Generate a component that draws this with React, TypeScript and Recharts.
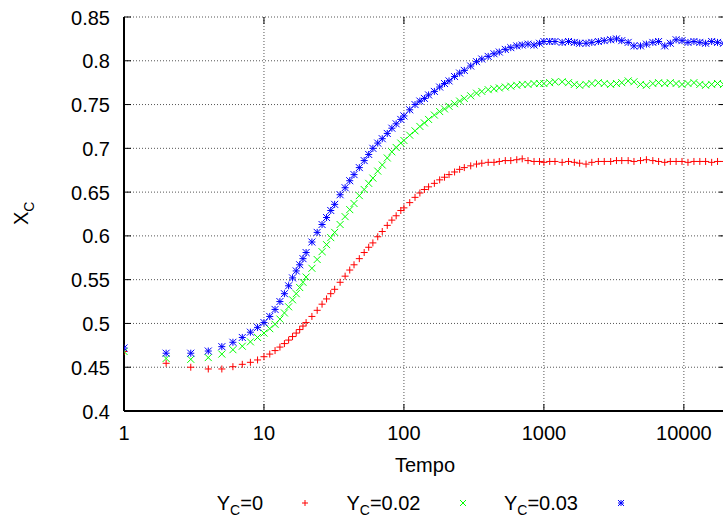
import React from 'react';
import { ScatterChart, Scatter, XAxis, YAxis, CartesianGrid, Legend } from 'recharts';

// time steps (log x axis)
const times = [
  1, 2, 3, 4, 5, 6, 7, 8, 9, 10,
  11, 12, 13, 14, 15, 16, 17, 18, 19, 20,
  22, 24, 26, 28, 30, 32,
  35, 38, 41, 44, 48, 52, 56, 60,
  65, 70, 76, 82, 88, 95,
  100, 110, 120, 130, 140, 150,
  165, 180, 195, 210, 230, 250, 270,
  300, 330, 360, 400, 440, 480,
  530, 580, 640, 700, 770, 850, 930,
  1000, 1100, 1200, 1350, 1500, 1650, 1800,
  2000, 2200, 2450, 2700, 3000, 3300, 3600,
  4000, 4400, 4900, 5400, 6000, 6600, 7300,
  8000, 8800, 9700, 10700, 11800, 13000, 14300,
  15800, 17400, 19200,
];

// Y_C=0
const redY = [
  0.468, 0.4545, 0.45, 0.448, 0.448, 0.4506, 0.4533, 0.4556, 0.4583, 0.462,
  0.465, 0.469, 0.473, 0.477, 0.481, 0.485, 0.489, 0.493, 0.497, 0.501,
  0.508, 0.515, 0.522, 0.528, 0.534, 0.539,
  0.547, 0.554, 0.561, 0.567, 0.574, 0.581, 0.587, 0.592,
  0.599, 0.605, 0.612, 0.618, 0.623, 0.629,
  0.632, 0.638, 0.644, 0.649, 0.653, 0.656,
  0.66, 0.664, 0.667, 0.67, 0.673, 0.676, 0.678,
  0.68, 0.682, 0.683, 0.684, 0.684, 0.685,
  0.686, 0.686, 0.687, 0.688, 0.686, 0.685, 0.685,
  0.684, 0.685, 0.685, 0.684, 0.685, 0.684, 0.683,
  0.682, 0.684, 0.685, 0.685, 0.685, 0.686, 0.686,
  0.686, 0.685, 0.686, 0.687, 0.686, 0.685, 0.684,
  0.685, 0.685, 0.685, 0.684, 0.685, 0.685, 0.685,
  0.684, 0.685, 0.685,
];

// Y_C=0.02
const greenY = [
  0.468, 0.46, 0.459, 0.461, 0.465, 0.47, 0.474, 0.479, 0.484, 0.489,
  0.494, 0.499, 0.505, 0.512, 0.519, 0.527, 0.534, 0.541, 0.547, 0.553,
  0.563, 0.573, 0.582, 0.59, 0.598, 0.604,
  0.613, 0.622, 0.63, 0.637, 0.646, 0.653, 0.66, 0.666,
  0.674, 0.681, 0.689, 0.696, 0.701, 0.706,
  0.709, 0.715, 0.72, 0.725, 0.729, 0.733,
  0.738, 0.742, 0.745, 0.748, 0.751, 0.754, 0.757,
  0.76, 0.763, 0.765, 0.767, 0.768, 0.769,
  0.77, 0.771, 0.772, 0.773, 0.773, 0.774, 0.774,
  0.774, 0.775, 0.776, 0.776, 0.775, 0.773, 0.772,
  0.773, 0.774, 0.775, 0.774, 0.773, 0.774, 0.775,
  0.777, 0.776, 0.773, 0.772, 0.774, 0.775, 0.774,
  0.775, 0.774, 0.773, 0.774, 0.775, 0.773, 0.772,
  0.773, 0.774, 0.773,
];

// Y_C=0.03
const blueY = [
  0.472, 0.466, 0.466, 0.4685, 0.4735, 0.4785, 0.484, 0.49, 0.4955, 0.501,
  0.508, 0.516, 0.525, 0.534, 0.543, 0.552, 0.56, 0.567, 0.574, 0.581,
  0.593, 0.604, 0.613, 0.621, 0.629, 0.636,
  0.647, 0.655, 0.663, 0.67, 0.678, 0.686, 0.693, 0.7,
  0.706, 0.711, 0.717, 0.723, 0.728, 0.733,
  0.737, 0.744, 0.75, 0.754, 0.757, 0.761,
  0.765, 0.77, 0.774, 0.777, 0.782, 0.786, 0.789,
  0.794, 0.799, 0.802, 0.805, 0.808, 0.81,
  0.813, 0.815, 0.817, 0.818, 0.819, 0.818, 0.82,
  0.822, 0.822, 0.822, 0.821, 0.822, 0.821, 0.82,
  0.82, 0.821, 0.822, 0.823, 0.824, 0.825, 0.823,
  0.821, 0.817, 0.817, 0.819, 0.821, 0.822, 0.817,
  0.82, 0.824, 0.823, 0.821, 0.822, 0.821, 0.82,
  0.822, 0.821, 0.82,
];

const xTicks = [1, 10, 100, 1000, 10000];
const xMinorTicks = [
  2, 3, 4, 5, 6, 7, 8, 9,
  20, 30, 40, 50, 60, 70, 80, 90,
  200, 300, 400, 500, 600, 700, 800, 900,
  2000, 3000, 4000, 5000, 6000, 7000, 8000, 9000,
];
const yTicks = [0.4, 0.45, 0.5, 0.55, 0.6, 0.65, 0.7, 0.75, 0.8, 0.85];
const seriesNames = ['Y_C=0', 'Y_C=0.02', 'Y_C=0.03'];
const seriesColors = ['#ff0000', '#00ff00', '#0000ff'];
const seriesKinds = ['plus', 'cross', 'star'];

const FONT = '"Liberation Sans", Arial, Helvetica, sans-serif';
const PLOT_W = 602;
const PLOT_H = 394;

const redData = times.map((t, i) => ({ t, v: redY[i] }));
const greenData = times.map((t, i) => ({ t, v: greenY[i] }));
const blueData = times.map((t, i) => ({ t, v: blueY[i] }));

const Marker = ({ kind, cx, cy, color, r = 3.5 }: any) => {
  const plus = `M${cx - r},${cy}H${cx + r}M${cx},${cy - r}V${cy + r}`;
  const cross = `M${cx - r},${cy - r}L${cx + r},${cy + r}M${cx - r},${cy + r}L${cx + r},${cy - r}`;
  const d = kind === 'plus' ? plus : kind === 'cross' ? cross : plus + cross;
  return <path d={d} stroke={color} strokeWidth={1} fill="none" />;
};

const XMajorTick = ({ x, y, payload }: any) => (
  <g>
    <line x1={x} x2={x} y1={y} y2={y - 7} stroke="#000" />
    <line x1={x} x2={x} y1={y - PLOT_H} y2={y - PLOT_H + 7} stroke="#000" />
    <text x={x} y={y + 29} textAnchor="middle" fontSize={20} fontFamily={FONT} fill="#000">
      {payload.value}
    </text>
  </g>
);

const XMinorTick = ({ x, y }: any) => (
  <g>
    <line x1={x} x2={x} y1={y} y2={y - 4} stroke="#000" />
    <line x1={x} x2={x} y1={y - PLOT_H} y2={y - PLOT_H + 4} stroke="#000" />
  </g>
);

const YMajorTick = ({ x, y, payload }: any) => (
  <g>
    <line x1={x} x2={x + 7} y1={y} y2={y} stroke="#000" />
    <line x1={x + PLOT_W - 7} x2={x + PLOT_W} y1={y} y2={y} stroke="#000" />
    <text x={x - 14} y={y} dy={7.5} textAnchor="end" fontSize={20} fontFamily={FONT} fill="#000">
      {String(payload.value)}
    </text>
  </g>
);

const renderLegend = (props: any) => {
  const payload = props.payload || [];
  return (
    <svg width={723} height={28} style={{ display: 'block' }}>
      {payload.map((entry: any, i: number) => {
        const val = String(entry.value).split('=')[1];
        return (
          <g key={i}>
            <text x={263 + 157.5 * i} y={20} textAnchor="end" fontSize={20} fontFamily={FONT} fill="#000">
              Y<tspan dy={5} fontSize={14}>C</tspan>
              <tspan dy={-5}>={val}</tspan>
            </text>
            <Marker kind={seriesKinds[i]} cx={305 + 158 * i} cy={13} color={entry.color} r={3} />
          </g>
        );
      })}
    </svg>
  );
};

const shapeFor = (i: number) => (p: any) =>
  <Marker kind={seriesKinds[i]} cx={p.cx} cy={p.cy} color={seriesColors[i]} />;

export default function App() {
  return (
    <div style={{ position: 'absolute', left: 0, top: 0, width: 723, height: 518, overflow: 'hidden', background: '#fff' }}>
      <ScatterChart width={726} height={518} margin={{ top: 17, right: 0, bottom: 77, left: 0 }}>
        <CartesianGrid stroke="#555" strokeDasharray="1 2" />
        <XAxis
          xAxisId="minor"
          dataKey="t"
          type="number"
          scale="log"
          domain={[1, 20000]}
          allowDataOverflow
          ticks={xMinorTicks}
          interval={0}
          height={0}
          axisLine={false}
          tickLine={false}
          tickSize={0}
          tickMargin={0}
          tick={<XMinorTick />}
        />
        <XAxis
          dataKey="t"
          type="number"
          scale="log"
          domain={[1, 20000]}
          allowDataOverflow
          ticks={xTicks}
          interval={0}
          height={30}
          axisLine={{ stroke: '#000', strokeWidth: 2 }}
          tickLine={false}
          tickSize={0}
          tickMargin={0}
          tick={<XMajorTick />}
          label={{
            content: () => (
              <text x={425} y={472} textAnchor="middle" fontSize={20} fontFamily={FONT} fill="#000">
                Tempo
              </text>
            ),
          }}
        />
        <XAxis
          xAxisId="top"
          orientation="top"
          dataKey="t"
          type="number"
          scale="log"
          domain={[1, 20000]}
          allowDataOverflow
          height={0}
          tick={false}
          tickLine={false}
          axisLine={{ stroke: '#000', strokeWidth: 2 }}
        />
        <YAxis
          dataKey="v"
          type="number"
          domain={[0.4, 0.85]}
          allowDataOverflow
          ticks={yTicks}
          interval={0}
          width={124}
          axisLine={{ stroke: '#000', strokeWidth: 2 }}
          tickLine={false}
          tickSize={0}
          tickMargin={0}
          tick={<YMajorTick />}
          label={{
            content: () => (
              <text x={28} y={225} transform="rotate(-90 28 225)" fontSize={20} fontFamily={FONT} fill="#000">
                X<tspan dy={6} fontSize={14}>C</tspan>
              </text>
            ),
          }}
        />
        <Legend
          content={renderLegend}
          layout="horizontal"
          verticalAlign="middle"
          align="center"
          wrapperStyle={{ left: 0, top: 490, width: 723, height: 28 }}
        />
        <Scatter name={seriesNames[0]} data={redData} fill={seriesColors[0]} shape={shapeFor(0)} isAnimationActive={false} />
        <Scatter name={seriesNames[1]} data={greenData} fill={seriesColors[1]} shape={shapeFor(1)} isAnimationActive={false} />
        <Scatter name={seriesNames[2]} data={blueData} fill={seriesColors[2]} shape={shapeFor(2)} isAnimationActive={false} />
      </ScatterChart>
    </div>
  );
}
